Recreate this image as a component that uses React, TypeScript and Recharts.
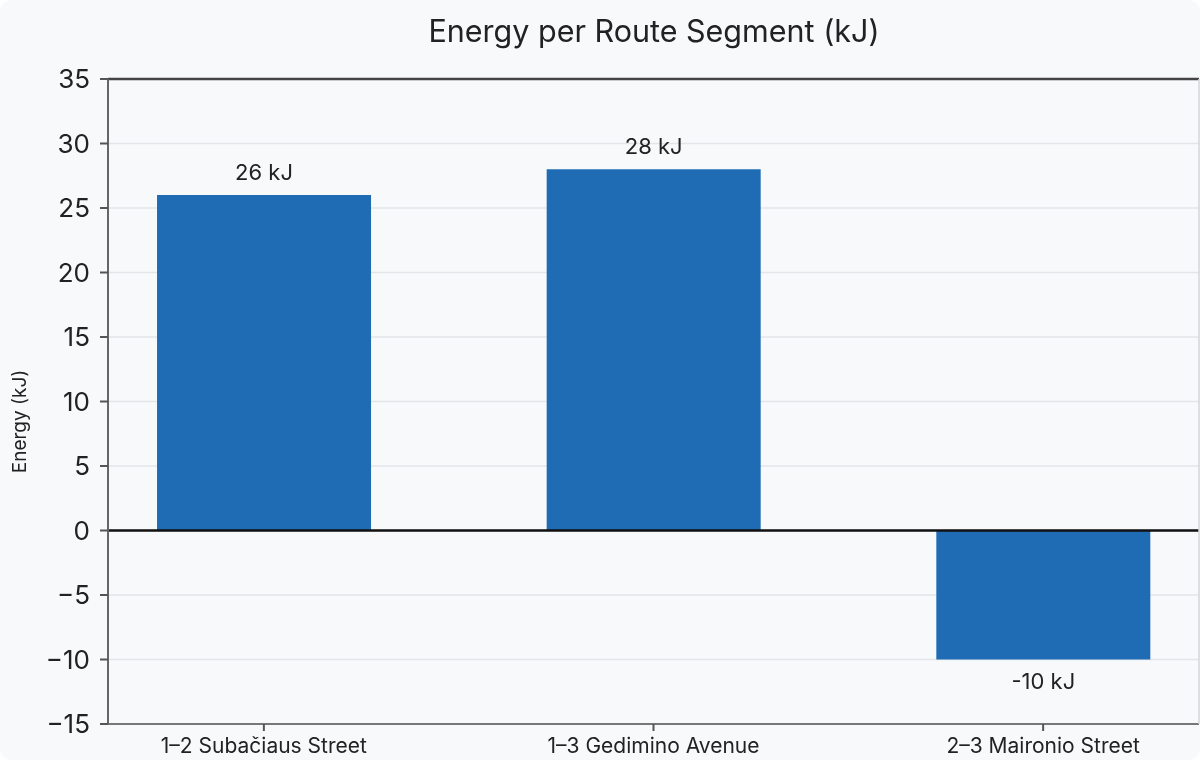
import React from "react";
import {
  BarChart,
  Bar,
  XAxis,
  YAxis,
  CartesianGrid,
  ReferenceLine,
  LabelList,
} from "recharts";

const segments = ["1–2 Subačiaus Street", "1–3 Gedimino Avenue", "2–3 Maironio Street"];
const energyKJ = [26, 28, -10];
const yTicks = [-15, -10, -5, 0, 5, 10, 15, 20, 25, 30, 35];

const data = segments.map((name, i) => ({ idx: i, name, energy: energyKJ[i] }));

const FONT = "Inter, Roboto, sans-serif";
const BLUE = "#1f6cb4";

const fmtTick = (v: number) => (v < 0 ? `−${Math.abs(v)}` : `${v}`);

// value label above positive bars, below negative ones
const BarValue = (props: any) => {
  const { x, y, width, height, value } = props;
  const top = Math.min(y, y + height);
  const bottom = Math.max(y, y + height);
  const cx = x + width / 2;
  const ty = value >= 0 ? top - 15 : bottom + 29;
  return (
    <text x={cx} y={ty} textAnchor="middle" fontSize={22} fill="#222" fontFamily={FONT}>
      {`${value} kJ`}
    </text>
  );
};

const YLabel = (props: any) => {
  const { viewBox } = props;
  const cy = viewBox.y + viewBox.height / 2 + 20;
  return (
    <text
      x={26}
      y={cy}
      transform={`rotate(-90, 26, ${cy})`}
      textAnchor="middle"
      fontSize={19}
      fill="#222"
      fontFamily={FONT}
    >
      Energy (kJ)
    </text>
  );
};

export default function App() {
  return (
    <div
      style={{
        position: "fixed",
        left: 0,
        top: 0,
        width: 1200,
        height: 760,
        overflow: "hidden",
        background: "#f8f9fb",
        borderRadius: 12,
        fontFamily: FONT,
      }}
    >
      <div
        style={{
          position: "absolute",
          left: 108,
          width: 1092,
          top: 13,
          textAlign: "center",
          fontSize: 30.5,
          color: "#222",
          lineHeight: "36px",
        }}
      >
        Energy per Route Segment (kJ)
      </div>
      <div style={{ position: "absolute", left: 0, top: 0 }}>
        <BarChart
          width={1200}
          height={780}
          data={data}
          margin={{ top: 78, right: 0, bottom: 6, left: 0 }}
        >
          <CartesianGrid vertical={false} stroke="#e3e5e8" strokeWidth={1.5} />
          <XAxis
            dataKey="idx"
            type="number"
            domain={[-0.4, 2.4]}
            ticks={[0, 1, 2]}
            tickFormatter={(i: number) => segments[i] ?? ""}
            height={50}
            interval={0}
            allowDataOverflow
            axisLine={{ stroke: "#777", strokeWidth: 2 }}
            tickLine={{ stroke: "#555", strokeWidth: 2 }}
            tickSize={7}
            tick={{ fontSize: 21, fill: "#222", fontFamily: FONT, dy: 5 }}
          />
          <XAxis
            xAxisId="top"
            orientation="top"
            type="number"
            domain={[-0.4, 2.4]}
            height={1}
            tick={false}
            tickLine={false}
            axisLine={{ stroke: "#444", strokeWidth: 2.5 }}
          />
          <YAxis
            domain={[-15, 35]}
            ticks={yTicks}
            width={108}
            interval={0}
            allowDataOverflow
            tickFormatter={fmtTick}
            axisLine={{ stroke: "#666", strokeWidth: 2 }}
            tickLine={{ stroke: "#555", strokeWidth: 2 }}
            tickSize={8}
            tickMargin={10}
            tick={{ fontSize: 26, fill: "#222", fontFamily: FONT }}
            label={<YLabel />}
          />
          <YAxis
            yAxisId="right"
            orientation="right"
            domain={[-15, 35]}
            width={1}
            tick={false}
            tickLine={false}
            axisLine={{ stroke: "#d5d7da", strokeWidth: 1.5 }}
          />
          <ReferenceLine y={0} stroke="#111" strokeWidth={2.5} />
          <Bar dataKey="energy" fill={BLUE} barSize={214} isAnimationActive={false}>
            <LabelList dataKey="energy" content={<BarValue />} />
          </Bar>
        </BarChart>
      </div>
    </div>
  );
}
